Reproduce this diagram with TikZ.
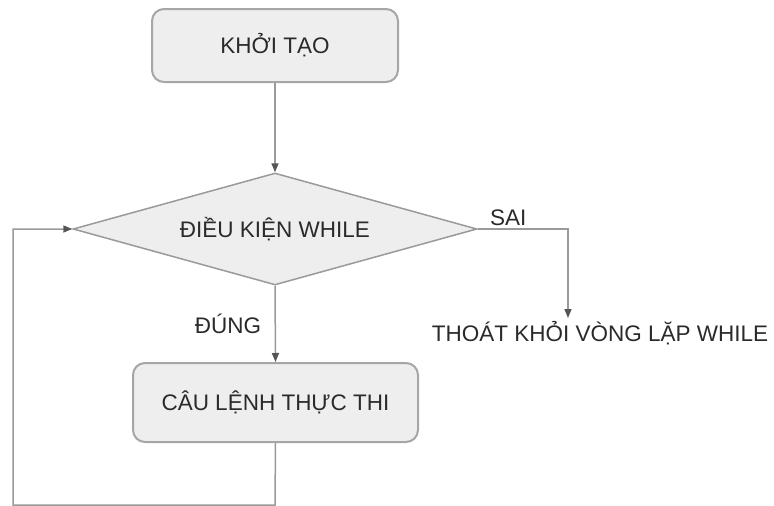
\documentclass[tikz,border=0pt]{standalone}
\usepackage{fontspec}
\setmainfont{Liberation Sans}
\usetikzlibrary{shapes.geometric,arrows.meta}
\definecolor{linegray}{HTML}{9A9A9A}
\definecolor{boxgray}{HTML}{A6A6A6}
\definecolor{fillgray}{HTML}{EEEEEE}
\definecolor{tipgray}{HTML}{555555}
\definecolor{textgray}{HTML}{2A2A2A}
\tikzset{
  every node/.style={font=\fontsize{22.5}{27}\selectfont, text=textgray},
  capmid/.style={text height=16.1pt, text depth=0pt},
  procbox/.style={rectangle, rounded corners=12pt, draw=boxgray, line width=2pt,
    fill=fillgray, inner sep=0pt, capmid},
  decision/.style={diamond, draw=linegray, line width=1.5pt, fill=fillgray,
    inner sep=0pt, aspect=3.6, capmid},
  conn/.style={draw=linegray, line width=1.5pt},
  arr/.style={conn, -{Triangle[length=9pt,width=7pt,color=tipgray]}},
  lbl/.style={anchor=base, inner sep=0pt}
}
\begin{document}
\begin{tikzpicture}[x=1pt,y=-1pt]
\useasboundingbox (0,0) rectangle (774,506);
\node[procbox, minimum width=246pt, minimum height=73pt] (init) at (275,45.5) {KHỞI TẠO};
\node[decision, minimum width=404pt, minimum height=112pt] (cond) at (275,229) {ĐIỀU KIỆN WHILE};
\node[procbox, minimum width=285pt, minimum height=79pt] (body) at (275.5,402.5) {CÂU LỆNH THỰC THI};
\node[lbl] (exit) at (600,341) {THOÁT KHỎI VÒNG LẶP WHILE};
\node[lbl, anchor=base west] (sai) at (490,225) {SAI};
\node[lbl] (dung) at (228,333) {ĐÚNG};
\coordinate (rc) at (568,229);
\coordinate (exitin) at (568,318);
\coordinate (bl) at (275,505);
\coordinate (lb) at (13,505);
\coordinate (lt) at (13,229);
\draw[arr] (init.south) -- (cond.north);
\draw[arr] (cond.south) -- (body.north);
\draw[arr] (cond.east) -- (rc) -- (exitin);
\draw[arr] (body.south) -- (bl) -- (lb) -- (lt) -- (cond.west);
\end{tikzpicture}
\end{document}
